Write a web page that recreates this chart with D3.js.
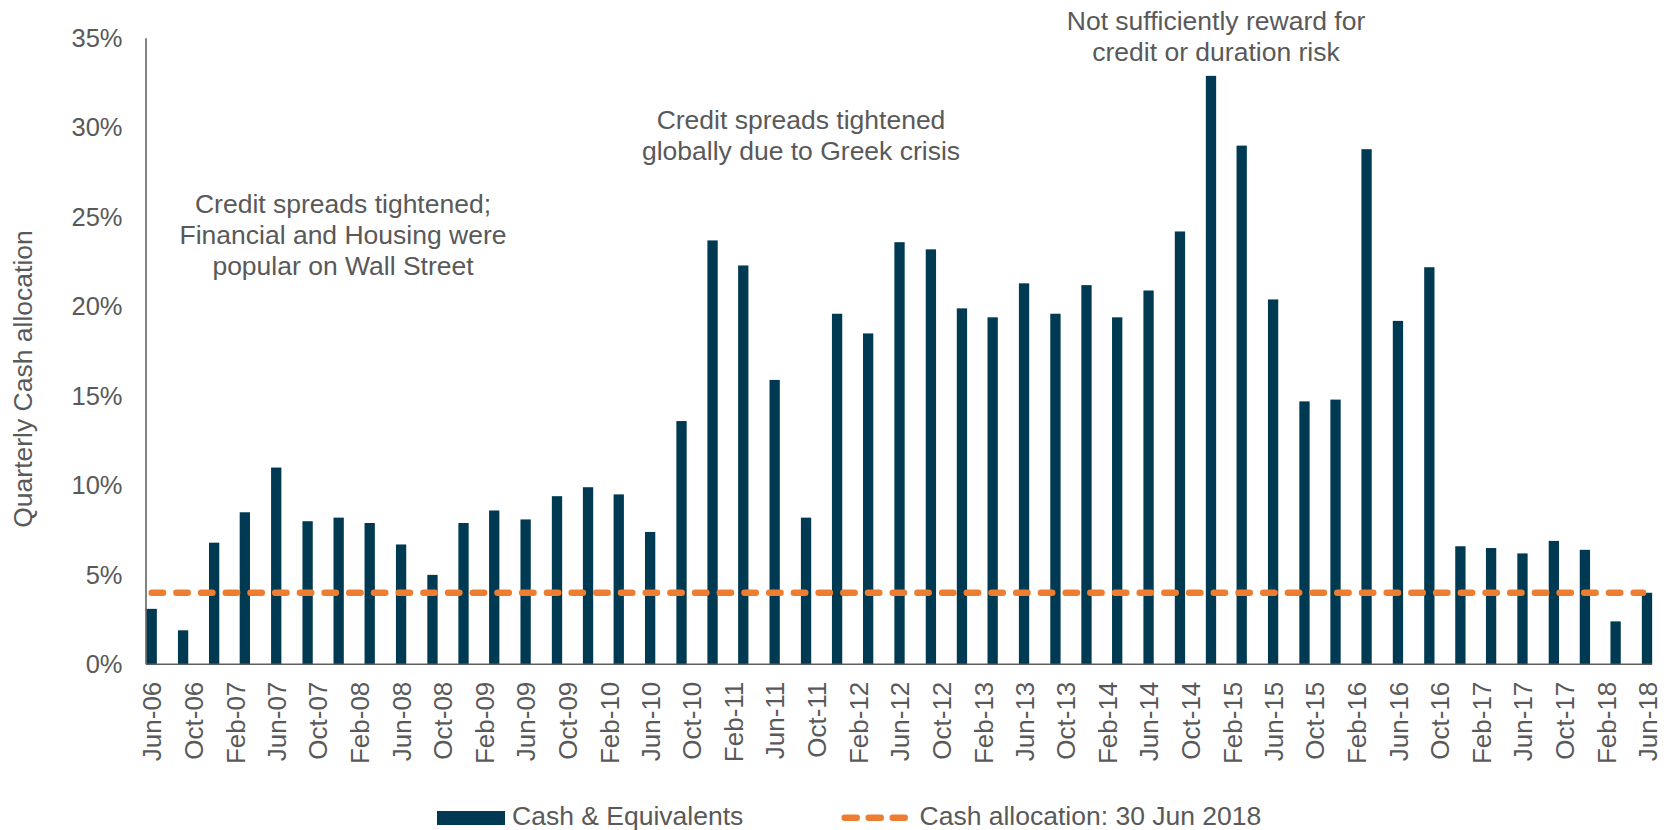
<!DOCTYPE html>
<html>
<head>
<meta charset="utf-8">
<script src="https://cdn.jsdelivr.net/npm/d3@7"></script>
<style>
  body { margin: 0; background: #fff; }
  svg { display: block; font-family: 'Liberation Sans', Arial, sans-serif; }
</style>
</head>
<body>
<div id="chart"></div>
<script>
// Quarter-end snapshots, Jun-06 to Jun-18
const quarters = [
  'Jun-06', 'Sep-06', 'Dec-06', 'Mar-07', 'Jun-07', 'Sep-07', 'Dec-07',
  'Mar-08', 'Jun-08', 'Sep-08', 'Dec-08', 'Mar-09', 'Jun-09', 'Sep-09', 'Dec-09',
  'Mar-10', 'Jun-10', 'Sep-10', 'Dec-10', 'Mar-11', 'Jun-11', 'Sep-11', 'Dec-11',
  'Mar-12', 'Jun-12', 'Sep-12', 'Dec-12', 'Mar-13', 'Jun-13', 'Sep-13', 'Dec-13',
  'Mar-14', 'Jun-14', 'Sep-14', 'Dec-14', 'Mar-15', 'Jun-15', 'Sep-15', 'Dec-15',
  'Mar-16', 'Jun-16', 'Sep-16', 'Dec-16', 'Mar-17', 'Jun-17', 'Sep-17', 'Dec-17',
  'Mar-18', 'Jun-18'
]

// Cash & Equivalents, % of portfolio
const cashValues = [
  3.1, 1.9, 6.8, 8.5, 11.0, 8.0, 8.2,
  7.9, 6.7, 5.0, 7.9, 8.6, 8.1, 9.4, 9.9,
  9.5, 7.4, 13.6, 23.7, 22.3, 15.9, 8.2, 19.6,
  18.5, 23.6, 23.2, 19.9, 19.4, 21.3, 19.6, 21.2,
  19.4, 20.9, 24.2, 32.9, 29.0, 20.4, 14.7, 14.8,
  28.8, 19.2, 22.2, 6.6, 6.5, 6.2, 6.9, 6.4,
  2.4, 4.0
]

// latest reading, drawn as the reference line
const cashAllocation = 4.0

const xTickLabels = [
  'Jun-06', 'Oct-06', 'Feb-07', 'Jun-07', 'Oct-07', 'Feb-08', 'Jun-08',
  'Oct-08', 'Feb-09', 'Jun-09', 'Oct-09', 'Feb-10', 'Jun-10', 'Oct-10',
  'Feb-11', 'Jun-11', 'Oct-11', 'Feb-12', 'Jun-12', 'Oct-12', 'Feb-13',
  'Jun-13', 'Oct-13', 'Feb-14', 'Jun-14', 'Oct-14', 'Feb-15', 'Jun-15',
  'Oct-15', 'Feb-16', 'Jun-16', 'Oct-16', 'Feb-17', 'Jun-17', 'Oct-17',
  'Feb-18', 'Jun-18'
]

const yTicks = [0, 5, 10, 15, 20, 25, 30, 35]

const annotations = [
  { lines: ['Credit spreads tightened;', 'Financial and Housing were', 'popular on Wall Street'], x: 343, y: 212.5 },
  { lines: ['Credit spreads tightened', 'globally due to Greek crisis'], x: 801, y: 128.5 },
  { lines: ['Not sufficiently reward for', 'credit or duration risk'], x: 1216, y: 29.5 }
]

const width = 1667
const height = 830
const barColor = '#003a52'
const lineColor = '#ed7d31'
const textColor = '#595959'
const barWidth = 10.3

const parseMonth = d3.timeParse('%b-%y')
const formatMonth = d3.timeFormat('%b-%y')

const datapoints = quarters.map((q, i) => ({ date: parseMonth(q), value: cashValues[i] }))
const tickDates = xTickLabels.map(parseMonth)

const svg = d3
  .select('#chart')
  .append('svg')
  .attr('width', width)
  .attr('height', height)

const xPositionScale = d3
  .scaleTime()
  .domain(d3.extent(datapoints, d => d.date))
  .range([151.7, 1647])

const yPositionScale = d3
  .scaleLinear()
  .domain([0, 35])
  .range([664.3, 38.3])

// y axis labels
const yAxis = d3
  .axisLeft(yPositionScale)
  .tickValues(yTicks)
  .tickFormat(d => d + '%')
  .tickSize(0)
  .tickPadding(23.5)

svg
  .append('g')
  .attr('class', 'axis y-axis')
  .attr('transform', 'translate(146,0)')
  .call(yAxis)
  .call(g => g.select('.domain').remove())
  .selectAll('text')
  .attr('fill', textColor)
  .style('font-size', '25.5px')

// x axis labels, rotated
const xAxis = d3
  .axisBottom(xPositionScale)
  .tickValues(tickDates)
  .tickFormat(formatMonth)
  .tickSize(0)

svg
  .append('g')
  .attr('class', 'axis x-axis')
  .attr('transform', 'translate(0,' + yPositionScale(0) + ')')
  .call(xAxis)
  .call(g => g.select('.domain').remove())
  .selectAll('text')
  .attr('fill', textColor)
  .style('font-size', '26px')
  .attr('transform', 'rotate(-90)')
  .attr('text-anchor', 'end')
  .attr('x', -17.4)
  .attr('y', 0)
  .attr('dy', '0.35em')

// bars
svg
  .selectAll('.bar')
  .data(datapoints)
  .enter()
  .append('rect')
  .attr('class', 'bar')
  .attr('x', d => xPositionScale(d.date) - barWidth / 2)
  .attr('width', barWidth)
  .attr('y', d => yPositionScale(d.value))
  .attr('height', d => yPositionScale(0) - yPositionScale(d.value))
  .attr('fill', barColor)

// axis lines
const first = datapoints[0].date
const last = datapoints[datapoints.length - 1].date

svg
  .append('line')
  .attr('x1', 146)
  .attr('x2', 146)
  .attr('y1', yPositionScale(35))
  .attr('y2', yPositionScale(0))
  .attr('stroke', '#404040')
  .attr('stroke-width', 1.3)

svg
  .append('line')
  .attr('x1', 146)
  .attr('x2', xPositionScale(last) + barWidth / 2)
  .attr('y1', yPositionScale(0))
  .attr('y2', yPositionScale(0))
  .attr('stroke', '#5f5f5f')
  .attr('stroke-width', 1.6)

// current allocation reference line
svg
  .append('line')
  .attr('x1', xPositionScale(first))
  .attr('x2', xPositionScale(last) - 4)
  .attr('y1', yPositionScale(cashAllocation))
  .attr('y2', yPositionScale(cashAllocation))
  .attr('stroke', lineColor)
  .attr('stroke-width', 6.5)
  .attr('stroke-linecap', 'round')
  .attr('stroke-dasharray', '11.3 13.4')

// y axis title
svg
  .append('text')
  .attr('transform', 'translate(32,' + 379 + ') rotate(-90)')
  .attr('text-anchor', 'middle')
  .attr('fill', textColor)
  .style('font-size', '26.5px')
  .text('Quarterly Cash allocation')

// annotations
annotations.forEach(a => {
  const t = svg
    .append('text')
    .attr('text-anchor', 'middle')
    .attr('fill', textColor)
    .style('font-size', '26.5px')
  a.lines.forEach((line, i) => {
    t.append('tspan')
      .attr('x', a.x)
      .attr('y', a.y + i * 31.3)
      .text(line)
  })
})

// legend
const legend = svg.append('g').attr('class', 'legend')

legend
  .append('rect')
  .attr('x', 437)
  .attr('y', 811)
  .attr('width', 68)
  .attr('height', 14)
  .attr('fill', barColor)

legend
  .append('text')
  .attr('x', 512)
  .attr('y', 825)
  .attr('fill', textColor)
  .style('font-size', '26.5px')
  .text('Cash & Equivalents')

legend
  .append('line')
  .attr('x1', 844.7)
  .attr('x2', 905)
  .attr('y1', 817.7)
  .attr('y2', 817.7)
  .attr('stroke', lineColor)
  .attr('stroke-width', 6.5)
  .attr('stroke-linecap', 'round')
  .attr('stroke-dasharray', '12 12')

legend
  .append('text')
  .attr('x', 919.5)
  .attr('y', 825)
  .attr('fill', textColor)
  .style('font-size', '26.5px')
  .text('Cash allocation: 30 Jun 2018')
</script>
</body>
</html>
